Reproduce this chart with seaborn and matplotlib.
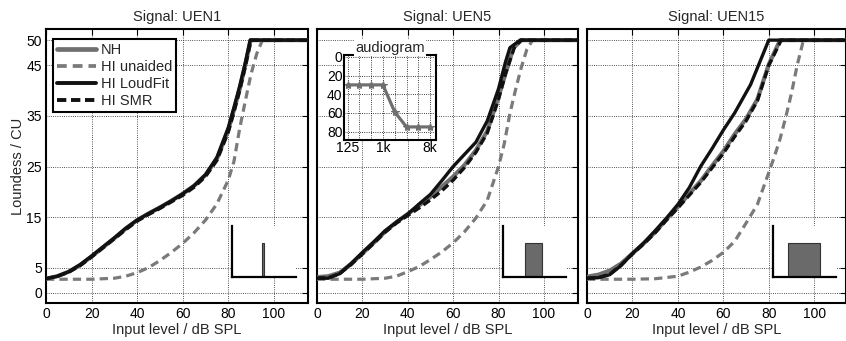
import numpy as np
import pandas as pd
import matplotlib
matplotlib.use("Agg")
import matplotlib.pyplot as plt
import seaborn as sns

# ---------------- data ----------------
signals = ["UEN1", "UEN5", "UEN15"]
series_names = ["NH", "HI unaided", "HI LoudFit", "HI SMR"]

# UEN1
nh1_x = [0, 5, 10, 15, 20, 25, 30, 35, 40, 45, 50, 55, 60, 65, 70, 75, 80, 82.5, 85, 87.5, 89.8, 115]
nh1_y = [2.8, 3.3, 4.2, 5.5, 7.2, 9.0, 10.8, 12.7, 14.4, 15.7, 16.9, 18.2, 19.6, 21.2, 23.3, 26.5, 32.2, 36.2, 40.3, 45.1, 50, 50]
un1_x = [0, 10, 20, 30, 35, 40, 45, 50, 55, 60, 65, 70, 75, 80, 82.5, 85, 87.5, 90, 92.5, 95, 115]
un1_y = [2.7, 2.7, 2.7, 2.9, 3.3, 4.0, 5.0, 6.4, 8.0, 9.8, 11.9, 14.4, 17.6, 22.3, 26.0, 32.5, 38.0, 43.3, 47.3, 50, 50]
lf1_x = [0, 5, 10, 15, 20, 25, 30, 35, 40, 45, 50, 55, 60, 65, 70, 75, 80, 82.5, 85, 87.5, 89.6, 115]
lf1_y = [2.8, 3.3, 4.2, 5.6, 7.3, 9.1, 10.9, 12.8, 14.4, 15.7, 16.9, 18.2, 19.6, 21.2, 23.4, 26.8, 32.7, 36.7, 40.9, 45.6, 50, 50]
smr1_x = [0, 5, 10, 15, 20, 25, 30, 35, 40, 45, 50, 55, 60, 65, 70, 75, 80, 82.5, 85, 87.5, 90, 115]
smr1_y = [2.8, 3.3, 4.1, 5.4, 7.1, 8.9, 10.7, 12.5, 14.2, 15.5, 16.7, 18.0, 19.3, 20.9, 23.0, 26.2, 31.8, 35.8, 40.0, 44.8, 50, 50]

# UEN5
nh2_x = [0, 5, 10, 15, 20, 25, 30, 35, 40, 45, 50, 55, 60, 65, 70, 75, 80, 83, 86.5, 90, 115]
nh2_y = [3.1, 3.3, 4.0, 5.7, 7.8, 9.9, 12.1, 14.0, 15.6, 17.3, 19.0, 21.0, 23.0, 25.3, 28.2, 32.0, 38.8, 43.3, 48.4, 50, 50]
un2_x = [0, 10, 20, 30, 35, 40, 45, 50, 55, 60, 65, 70, 75, 80, 82.5, 85, 87.5, 90, 92.5, 95, 115]
un2_y = [2.7, 2.7, 2.7, 2.9, 3.3, 4.2, 5.2, 6.6, 8.1, 9.9, 12.1, 14.8, 18.3, 25.0, 29.5, 35.5, 40.2, 44.6, 48.2, 50, 50]
lf2_x = [0, 5, 10, 15, 20, 25, 30, 35, 40, 45, 50, 55, 60, 65, 70, 75, 80, 83, 85, 89.5, 115]
lf2_y = [2.9, 2.9, 3.8, 5.8, 8.0, 10.1, 12.3, 14.0, 15.6, 17.6, 19.5, 22.2, 25.0, 27.4, 29.8, 34.0, 40.4, 45.6, 48.5, 50, 50]
smr2_x = [0, 5, 10, 15, 20, 25, 30, 35, 40, 45, 50, 55, 60, 65, 70, 75, 80, 83, 87, 90, 115]
smr2_y = [2.9, 3.0, 3.8, 5.6, 7.7, 9.8, 12.0, 13.8, 15.3, 16.8, 18.4, 20.2, 22.3, 24.8, 27.8, 31.6, 38.3, 43.3, 48.6, 50, 50]

# UEN15
nh3_x = [0, 5, 10, 15, 20, 25, 30, 35, 40, 45, 50, 55, 60, 65, 70, 75, 80, 85, 115]
nh3_y = [3.2, 3.6, 4.4, 5.8, 7.8, 9.8, 12.0, 14.6, 17.0, 19.6, 22.1, 25.1, 28.0, 31.4, 34.4, 38.3, 45.2, 50, 50]
un3_x = [0, 10, 20, 30, 40, 45, 50, 55, 60, 65, 70, 75, 80, 82.5, 85, 87.5, 90, 92.5, 95, 96, 115]
un3_y = [2.7, 2.7, 2.7, 2.8, 3.3, 4.1, 5.1, 6.4, 8.0, 10.2, 13.8, 17.5, 23.8, 27.0, 30.5, 34.8, 39.5, 45.0, 49.5, 50, 50]
lf3_x = [0, 5, 10, 15, 20, 25, 30, 35, 40, 45, 50, 55, 60, 65, 72, 80, 115]
lf3_y = [2.9, 3.0, 3.6, 5.4, 7.8, 9.9, 12.3, 14.8, 17.5, 20.8, 25.0, 28.5, 32.2, 35.6, 41.2, 50, 50]
smr3_x = [0, 5, 10, 15, 20, 25, 30, 35, 40, 45, 50, 55, 60, 65, 70, 75, 80, 85.5, 115]
smr3_y = [2.9, 3.0, 3.7, 5.5, 7.7, 9.7, 11.9, 14.4, 16.8, 19.3, 21.8, 24.7, 27.6, 30.9, 34.0, 38.0, 45.0, 50, 50]

# stimulus band icons (dB axis units of the main panel)
band_lo = [94.7, 91.6, 88.5]
band_hi = [95.5, 99.0, 102.6]

# audiogram (hearing loss in dB HL)
aud_freqs = ["125", "250", "500", "1k", "2k", "4k", "6k", "8k"]
aud_hl = [30, 30, 30, 30, 59, 75, 75, 75]

x_ticks = [0, 20, 40, 60, 80, 100]
y_ticks = [0, 5, 15, 25, 35, 45, 50]

panel_data = [
    [(nh1_x, nh1_y), (un1_x, un1_y), (lf1_x, lf1_y), (smr1_x, smr1_y)],
    [(nh2_x, nh2_y), (un2_x, un2_y), (lf2_x, lf2_y), (smr2_x, smr2_y)],
    [(nh3_x, nh3_y), (un3_x, un3_y), (lf3_x, lf3_y), (smr3_x, smr3_y)],
]

# ---------------- style ----------------
sns.set_theme(style="white")
plt.rcParams["font.family"] = ["Liberation Sans", "DejaVu Sans"]
plt.rcParams["axes.linewidth"] = 1.5

styles = {
    "NH": dict(color="#6f6f6f", lw=3.0, ls="-", zorder=3),
    "HI unaided": dict(color="#7a7a7a", lw=2.3, ls=(0, (2.6, 1.6)), zorder=3),
    "HI LoudFit": dict(color="#111111", lw=2.4, ls="-", zorder=4),
    "HI SMR": dict(color="#111111", lw=2.4, ls=(0, (2.4, 1.2)), zorder=5),
}

W, H = 846, 341
fig = plt.figure(figsize=(W / 100, H / 100), dpi=100)
lefts = [46, 317, 587]
widths = [262, 261, 259]
top_px, bot_px = 29, 303

axes = []
for i, sig in enumerate(signals):
    ax = fig.add_axes([lefts[i] / W, 1 - bot_px / H, widths[i] / W, (bot_px - top_px) / H])
    axes.append(ax)
    for name, (xs, ys) in zip(series_names, panel_data[i]):
        df = pd.DataFrame({"level": xs, "loudness": ys})
        st = styles[name]
        sns.lineplot(data=df, x="level", y="loudness", ax=ax, color=st["color"],
                     linewidth=st["lw"], linestyle=st["ls"], zorder=st["zorder"],
                     label=name, legend=False, sort=False)
    ax.set_xlim(0, 115 if i < 2 else 114)
    ax.set_ylim(-2, 52.2)
    ax.set_xticks(x_ticks)
    ax.set_yticks(y_ticks)
    ax.grid(True, linestyle=":", color="black", linewidth=0.6, alpha=0.9)
    ax.set_axisbelow(True)
    for sp in ax.spines.values():
        sp.set_visible(True)
        sp.set_color("black")
        sp.set_linewidth(1.5)
    ax.tick_params(direction="in", top=True, right=True, length=4, width=0.8,
                   labelsize=10, pad=3, colors="black")
    ax.set_xlabel("Input level / dB SPL", fontsize=10.5, labelpad=1)
    ax.set_title(f"Signal: {sig}", fontsize=10.5, pad=6)
    if i == 0:
        ax.set_ylabel("Loundess / CU", fontsize=10.5, labelpad=1)
    else:
        ax.set_ylabel("")
        ax.tick_params(labelleft=False)

    # stimulus spectrum icon
    ic = ax.inset_axes([81.8, 3.2, 28.0, 10.0], transform=ax.transData)
    ic.set_facecolor("white")
    ic.bar([(band_lo[i] + band_hi[i]) / 2], [0.67], width=band_hi[i] - band_lo[i],
           color="#6a6a6a", edgecolor="#333333", linewidth=0.8, align="center")
    ic.set_xlim(81.8, 109.8)
    ic.set_ylim(0, 1)
    ic.set_xticks([])
    ic.set_yticks([])
    for k in ["top", "right"]:
        ic.spines[k].set_visible(False)
    for k in ["left", "bottom"]:
        ic.spines[k].set_color("black")
        ic.spines[k].set_linewidth(1.6)
    ic.set_zorder(6)

leg = axes[0].legend(loc="upper left", bbox_to_anchor=(0.025, 0.965), fontsize=10.5,
                     frameon=True, fancybox=False, framealpha=1, edgecolor="black",
                     handlelength=2.7, handletextpad=0.3, labelspacing=0.2,
                     borderpad=0.3, borderaxespad=0)
leg.get_frame().set_linewidth(1.5)
for line in leg.get_lines():
    line.set_linewidth(line.get_linewidth() + 0.4)
leg.set_zorder(10)

# audiogram inset in UEN5 panel
ax2 = axes[1]
aud = ax2.inset_axes([(344 - 317) / 261, (303 - 140) / 274, 92 / 261, 85 / 274])
aud.set_facecolor("white")
aud_df = pd.DataFrame({"idx": np.arange(len(aud_freqs)), "hl": aud_hl})
sns.lineplot(data=aud_df, x="idx", y="hl", ax=aud, color="#6f6f6f", linewidth=2.3,
             marker="*", markersize=6, markeredgecolor="#6f6f6f", legend=False)
aud.set_xlim(-0.3, 7.5)
aud.set_ylim(89, -2)
aud.set_xticks(np.arange(len(aud_freqs)))
aud.set_xticklabels([f if f in ("125", "1k", "8k") else "" for f in aud_freqs])
aud.set_yticks([0, 20, 40, 60, 80])
aud.grid(True, linestyle=":", color="black", linewidth=0.6)
aud.set_xlabel("")
aud.set_ylabel("")
for sp in aud.spines.values():
    sp.set_visible(True)
    sp.set_color("black")
    sp.set_linewidth(1.5)
aud.tick_params(direction="in", length=2, width=0.8, labelsize=10, pad=1, colors="black")
aud.set_title("audiogram", fontsize=10.5, pad=2,
              bbox=dict(facecolor="white", edgecolor="none", pad=0.5))
aud.set_zorder(7)

fig.savefig("out.png", dpi=100)
